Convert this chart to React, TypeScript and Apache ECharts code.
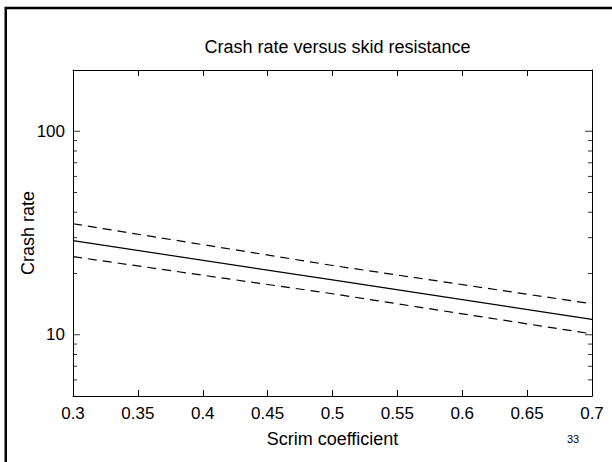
import React, { useEffect, useRef } from "react";
import * as echarts from "echarts";

const xValues = [0.3, 0.5, 0.7];
const fitLine = [29.0, 18.6, 11.9];
const upperBand = [35.1, 21.9, 14.2];
const lowerBand = [24.2, 15.9, 10.1];
const yMajorTicks = [10, 100];
const yMinorTicks = [6, 7, 8, 9, 20, 30, 40, 50, 60, 70, 80, 90];

const FONT = "Liberation Sans, Arial, Helvetica, sans-serif";

export default function App() {
  const ref = useRef<HTMLDivElement>(null);
  useEffect(() => {
    if (!ref.current) return;
    const chart = echarts.init(ref.current, undefined, { renderer: "svg" });
    const pair = (ys: number[]) => xValues.map((x, i) => [x, ys[i]]);
    const tickItems = (x: number, dir: number) => [
      ...yMajorTicks.map((v) => ({
        value: [x, v],
        symbolSize: [7, 1],
        symbolOffset: [dir * 3.5, 0],
      })),
      ...yMinorTicks.map((v) => ({
        value: [x, v],
        symbolSize: [4, 1],
        symbolOffset: [dir * 2, 0],
      })),
    ];
    const xAxisBase = {
      type: "value",
      min: 0.3,
      max: 0.7,
      interval: 0.05,
      axisLine: { show: true, lineStyle: { color: "#000", width: 1 } },
      axisTick: { show: true, inside: true, length: 6, lineStyle: { color: "#000" } },
      splitLine: { show: false },
    };
    const yAxisBase = {
      type: "log",
      logBase: 10,
      min: 5,
      max: 200,
      axisLine: { show: true, lineStyle: { color: "#000", width: 1 } },
      axisTick: { show: false },
      splitLine: { show: false },
      minorTick: { show: false },
      minorSplitLine: { show: false },
    };
    const tickSeries = (x: number, dir: number) => ({
      type: "scatter",
      symbol: "rect",
      clip: false,
      silent: true,
      itemStyle: { color: "#000" },
      data: tickItems(x, dir),
      z: 5,
    });
    chart.setOption({
      animation: false,
      backgroundColor: "#fff",
      textStyle: { fontFamily: FONT },
      title: {
        text: "Crash rate versus skid resistance",
        left: 332.5,
        top: 33,
        textAlign: "center",
        textStyle: { fontFamily: FONT, fontSize: 18, fontWeight: "normal", color: "#000" },
      },
      grid: { left: 73, top: 70, width: 519, height: 326, containLabel: false },
      xAxis: [
        {
          ...xAxisBase,
          position: "bottom",
          name: "Scrim coefficient",
          nameLocation: "middle",
          nameGap: 34,
          nameMoveOverlap: false,
          nameTextStyle: { fontFamily: FONT, fontSize: 18, color: "#000" },
          axisLabel: {
            show: true,
            margin: 9,
            fontFamily: FONT,
            fontSize: 17,
            color: "#000",
            formatter: (v: number) => String(+v.toFixed(2)),
          },
        },
        { ...xAxisBase, position: "top", axisLabel: { show: false } },
      ],
      yAxis: [
        {
          ...yAxisBase,
          position: "left",
          name: "Crash rate",
          nameLocation: "middle",
          nameGap: 36,
          nameMoveOverlap: false,
          nameTextStyle: { fontFamily: FONT, fontSize: 18, color: "#000" },
          axisLabel: {
            show: true,
            margin: 8,
            fontFamily: FONT,
            fontSize: 17,
            color: "#000",
            showMinLabel: false,
            showMaxLabel: false,
            formatter: (v: number) => {
              const e = Math.log10(v);
              return Math.abs(e - Math.round(e)) < 1e-6 && yMajorTicks.includes(Math.round(v))
                ? String(Math.round(v))
                : "";
            },
          },
        },
        { ...yAxisBase, position: "right", axisLabel: { show: false } },
      ],
      graphic: [
        {
          type: "rect",
          shape: { x: 5.75, y: 8, width: 900, height: 900 },
          style: { fill: "none", stroke: "#000", lineWidth: 2.5 },
          silent: true,
        },
        {
          type: "text",
          x: 573,
          y: 439,
          style: {
            text: "33",
            fontFamily: FONT,
            fontSize: 11,
            fill: "#000",
            align: "center",
            verticalAlign: "middle",
          },
        },
      ],
      series: [
        {
          type: "line",
          data: pair(fitLine),
          showSymbol: false,
          symbol: "none",
          lineStyle: { color: "#000", width: 1.2, type: "solid" },
        },
        {
          type: "line",
          data: pair(upperBand),
          showSymbol: false,
          symbol: "none",
          lineStyle: { color: "#000", width: 1.2, type: [9, 6] },
        },
        {
          type: "line",
          data: pair(lowerBand),
          showSymbol: false,
          symbol: "none",
          lineStyle: { color: "#000", width: 1.2, type: [9, 6] },
        },
        tickSeries(0.3, 1),
        tickSeries(0.7, -1),
      ],
    });

    return () => chart.dispose();
  }, []);
  return (
    <div
      ref={ref}
      style={{ position: "absolute", left: 0, top: 0, width: 612, height: 462 }}
    />
  );
}
